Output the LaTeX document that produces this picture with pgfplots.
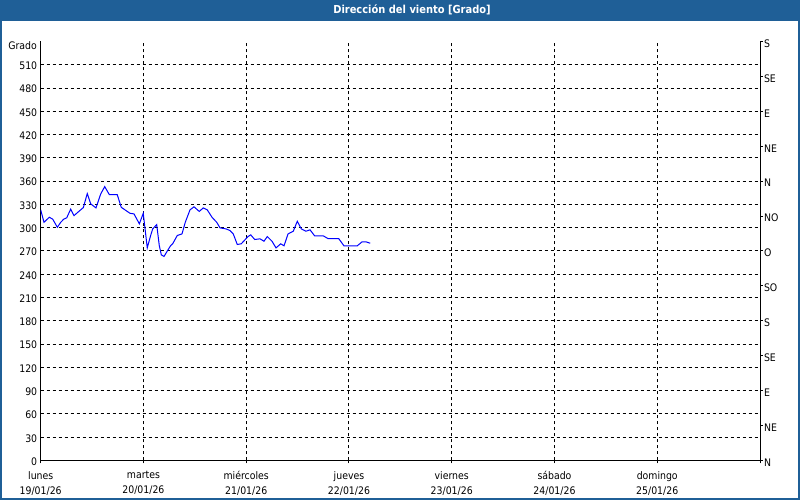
\documentclass[border=0pt]{standalone}
\usepackage{fontspec}
\setmainfont{DejaVu Sans Condensed}
\usepackage{pgfplots}
\pgfplotsset{compat=1.18}
\definecolor{titlebar}{RGB}{31,95,151}

\begin{document}
\begin{tikzpicture}
\path[use as bounding box] (0pt,0pt) rectangle (800pt,500pt);
\fill[white] (0pt,0pt) rectangle (800pt,500pt);
\fill[titlebar] (0pt,479.3pt) rectangle (800pt,500pt);
\draw[titlebar, line width=2pt] (1pt,480pt) -- (1pt,1pt) -- (799pt,1pt) -- (799pt,480pt);
\node[white, font=\bfseries\fontsize{11}{12}\selectfont] at (412pt,490pt) {Dirección del viento [Grado]};
\node[anchor=east, font=\fontsize{10.4}{12}\selectfont, inner sep=0pt] at (37pt,454pt) {Grado};

\begin{axis}[
  at={(40.7pt,39.5pt)}, anchor=south west,
  scale only axis, width=719.3pt, height=419pt,
  xmin=0, xmax=7, ymin=0, ymax=540,
  axis line style={line width=1pt},
  tick align=outside, major tick length=3pt,
  xtick={0,1,...,7},
  xticklabels={{lunes\\19/01/26},{martes\\20/01/26},{miércoles\\21/01/26},{jueves\\22/01/26},{viernes\\23/01/26},{sábado\\24/01/26},{domingo\\25/01/26},{}},
  xticklabel style={align=center, font=\fontsize{10.4}{15}\selectfont, yshift=-4.5pt},
  xtick style={black, line width=1pt},
  ytick={0,30,...,510},
  ytick style={draw=none},
  yticklabel style={font=\fontsize{10.4}{12}\selectfont, xshift=3pt, yshift=-1pt},
  /pgf/number format/assume math mode=true,
  axis y line*=left, axis x line*=bottom,
  grid=major,
  major grid style={black, line width=1pt, dash pattern=on 3pt off 3pt},
]
\addplot[blue, line width=1pt] coordinates {
(0,323) (0.032,307) (0.084,313.5) (0.117,311) (0.162,300.6) (0.195,307) (0.224,311)
(0.253,312.7) (0.292,324) (0.324,315.6) (0.415,326) (0.453,344) (0.487,330.7)
(0.538,325.5) (0.584,343.5) (0.623,353) (0.668,342.6) (0.745,342.6) (0.784,326.3)
(0.869,318.6) (0.908,317.8) (0.960,305) (0.998,318.6) (1.012,302.8) (1.037,274)
(1.070,290) (1.090,298.5) (1.129,304) (1.154,277) (1.174,265) (1.200,263)
(1.246,273) (1.265,277) (1.285,279.4) (1.329,290) (1.375,292) (1.407,307)
(1.453,323) (1.492,327) (1.543,321) (1.582,325.5) (1.621,323) (1.667,313.5)
(1.713,307) (1.745,299.8) (1.803,298.5) (1.842,296.4) (1.874,292) (1.913,278.4)
(1.952,279.3) (2.017,288.6) (2.044,290.8) (2.083,284.8) (2.134,285.7) (2.173,282.6)
(2.205,288.6) (2.251,282.6) (2.290,274) (2.336,279.3) (2.368,276.7) (2.407,292)
(2.458,295.5) (2.497,308.3) (2.536,298.5) (2.582,295.5) (2.621,297.3) (2.666,289.5)
(2.750,289.5) (2.796,286) (2.900,286) (2.951,276.7) (3.081,276.7) (3.127,281.8)
(3.166,281.8) (3.207,280)
};
\end{axis}

\begin{axis}[
  at={(40.7pt,39.5pt)}, anchor=south west,
  scale only axis, width=719.3pt, height=419pt,
  xmin=0, xmax=7, ymin=0, ymax=540,
  axis x line=none, axis y line*=right,
  axis line style={line width=1pt},
  tick align=outside, major tick length=3pt,
  ytick={0,45,...,540},
  yticklabels={N,NE,E,SE,S,SO,O,NO,N,NE,E,SE,S},
  ytick style={black, line width=1pt},
  yticklabel style={font=\fontsize{10.4}{12}\selectfont, xshift=-2.5pt, yshift=-2pt},
]
\addplot[draw=none] coordinates {(0,0)};
\end{axis}
\end{tikzpicture}
\end{document}
